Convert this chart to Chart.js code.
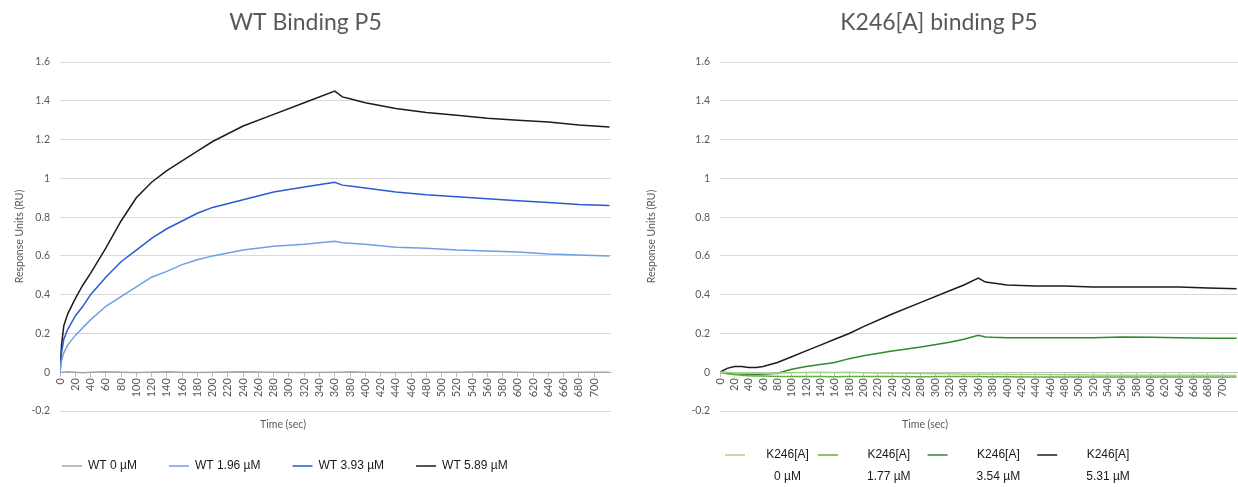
<!DOCTYPE html>
<html>
<head>
<meta charset="utf-8">
<script src="https://cdn.jsdelivr.net/npm/chart.js@4"></script>
<style>
  html, body { margin: 0; padding: 0; background: #fff; }
  #wrap { position: relative; width: 1238px; height: 487px; }
  .box { position: absolute; top: 0; height: 487px; }
  #left { left: 0; width: 620px; }
  #right { left: 620px; width: 618px; }
</style>
</head>
<body>
<div id="wrap">
  <div class="box" id="left"><canvas id="wtChart"></canvas></div>
  <div class="box" id="right"><canvas id="kChart"></canvas></div>
</div>
<script>
// time (sec) of the read points
const wtTime = [0, 2, 5, 10, 20, 30, 40, 60, 80, 100, 120, 140, 160, 180, 200, 240, 280, 320, 360, 370, 380, 400, 440, 480, 520, 560, 600, 640, 680, 720];
const wt0 = [0, 0, 0, 0.002, 0, -0.003, 0, 0.002, 0, -0.002, 0, 0.003, 0, -0.002, 0, 0.002, 0, -0.002, 0, 0, 0.002, 0, -0.002, 0, 0, 0.002, 0, -0.002, 0, 0];
const wt196 = [0, 0.06, 0.10, 0.14, 0.19, 0.23, 0.27, 0.34, 0.39, 0.44, 0.49, 0.52, 0.555, 0.58, 0.60, 0.63, 0.65, 0.66, 0.675, 0.668, 0.665, 0.66, 0.645, 0.64, 0.63, 0.625, 0.62, 0.61, 0.605, 0.60];
const wt393 = [0, 0.10, 0.17, 0.22, 0.29, 0.34, 0.40, 0.49, 0.57, 0.63, 0.69, 0.74, 0.78, 0.82, 0.85, 0.89, 0.93, 0.955, 0.98, 0.965, 0.96, 0.95, 0.93, 0.915, 0.905, 0.895, 0.885, 0.875, 0.865, 0.86];
const wt589 = [0, 0.14, 0.24, 0.30, 0.38, 0.45, 0.51, 0.64, 0.78, 0.90, 0.98, 1.04, 1.09, 1.14, 1.19, 1.27, 1.33, 1.39, 1.45, 1.42, 1.41, 1.39, 1.36, 1.34, 1.325, 1.31, 1.30, 1.29, 1.275, 1.265];
const wtLabels = ['WT 0 µM', 'WT 1.96 µM', 'WT 3.93 µM', 'WT 5.89 µM'];

const kTime = [0, 10, 20, 30, 40, 50, 60, 70, 80, 100, 120, 140, 160, 180, 200, 240, 280, 320, 340, 360, 370, 380, 400, 440, 480, 520, 560, 600, 640, 680, 720];
const k0 = [0, 0, -0.003, -0.005, -0.005, -0.004, -0.006, -0.005, -0.004, -0.003, -0.002, 0, -0.002, 0, -0.003, -0.005, -0.006, -0.008, -0.01, -0.01, -0.01, -0.01, -0.012, -0.012, -0.013, -0.014, -0.015, -0.015, -0.016, -0.016, -0.017];
const k177 = [0, -0.008, -0.012, -0.015, -0.018, -0.02, -0.02, -0.021, -0.022, -0.022, -0.022, -0.022, -0.023, -0.022, -0.022, -0.022, -0.023, -0.022, -0.022, -0.022, -0.023, -0.023, -0.023, -0.024, -0.024, -0.024, -0.025, -0.025, -0.025, -0.025, -0.025];
const k354 = [0, -0.005, -0.01, -0.01, -0.012, -0.012, -0.01, -0.008, -0.005, 0.015, 0.03, 0.04, 0.05, 0.07, 0.085, 0.11, 0.13, 0.155, 0.17, 0.19, 0.182, 0.18, 0.178, 0.178, 0.178, 0.178, 0.182, 0.18, 0.178, 0.175, 0.175];
const k531 = [0, 0.02, 0.03, 0.03, 0.025, 0.025, 0.03, 0.04, 0.05, 0.08, 0.11, 0.14, 0.17, 0.20, 0.235, 0.30, 0.36, 0.42, 0.45, 0.485, 0.465, 0.46, 0.45, 0.445, 0.445, 0.44, 0.44, 0.44, 0.44, 0.435, 0.43];
const kLabels = ['K246[A]\n0 µM', 'K246[A]\n1.77 µM', 'K246[A]\n3.54 µM', 'K246[A]\n5.31 µM'];

// axis ranges
const yMin = -0.2, yMax = 1.6, yStep = 0.2;
const xMax = 722, xStep = 20, xLastLabel = 700;

const grey = '#595959';
const calibriLike = 'Lato, "Open Sans", sans-serif';

// puts the bottom legend title ("Time (sec)") at a given centre and the first item at a given x,
// and lets the legend box reach the bottom of the canvas so two-line labels are not clipped
const legendPlace = {
  id: 'legendPlace',
  afterLayout(chart, args, opts) {
    const lg = chart.legend;
    if (!lg || opts.center == null) return;
    const pad = lg.options.labels.padding;
    lg.left = opts.center - 300;
    lg.right = opts.center + 300;
    lg.width = 600;
    lg.lineWidths = [lg.left + pad + lg.right - 2 * opts.start];
    lg.bottom = chart.height;
    lg.height = lg.bottom - lg.top;
  }
};

function makeChart(canvasId, cfg) {
  const datasets = cfg.series.map((vals, i) => ({
    label: cfg.labels[i],
    data: cfg.time.map((t, j) => ({ x: t, y: vals[j] })),
    borderColor: cfg.colors[i],
    backgroundColor: cfg.colors[i],
    borderWidth: 1.5,
    pointRadius: 0,
    tension: 0
  }));

  return new Chart(document.getElementById(canvasId), {
    type: 'line',
    data: { datasets },
    plugins: [legendPlace],
    options: {
      responsive: true,
      maintainAspectRatio: false,
      animation: false,
      layout: { padding: cfg.padding },
      scales: {
        x: {
          type: 'linear',
          min: 0,
          max: xMax,
          position: { y: 0 },
          afterBuildTicks: s => { s.ticks = s.ticks.filter(t => t.value <= xLastLabel); },
          ticks: {
            stepSize: xStep,
            autoSkip: false,
            maxRotation: 90,
            minRotation: 90,
            padding: 2,
            color: grey,
            font: { family: calibriLike, size: 11 }
          },
          grid: { drawOnChartArea: false, drawTicks: true, tickLength: 4, color: '#bfbfbf' },
          border: { display: true, color: '#bfbfbf' }
        },
        y: {
          min: yMin,
          max: yMax,
          afterFit: s => { s.width = cfg.yWidth; },
          ticks: {
            stepSize: yStep,
            padding: 10,
            color: grey,
            font: { family: calibriLike, size: 10.5 },
            callback: v => String(Math.round(v * 10) / 10)
          },
          grid: { color: '#d9d9d9', drawTicks: false },
          border: { display: false },
          title: {
            display: true,
            text: 'Response Units (RU)',
            color: grey,
            font: { family: calibriLike, size: 10.5 },
            padding: { top: cfg.yTitlePad, bottom: 0 }
          }
        }
      },
      plugins: {
        tooltip: { enabled: false },
        title: {
          display: true,
          text: cfg.title,
          color: grey,
          font: { family: calibriLike, size: 23, weight: 'normal', lineHeight: 1.2 },
          padding: { top: 9, bottom: 25.4 }
        },
        legend: {
          position: 'bottom',
          maxHeight: 76,
          title: {
            display: true,
            text: 'Time (sec)',
            color: grey,
            font: { family: calibriLike, size: 10.5, lineHeight: 1 },
            padding: { top: 8, bottom: cfg.legendTitleBottom }
          },
          labels: {
            usePointStyle: true,
            pointStyle: 'line',
            pointStyleWidth: 20,
            padding: cfg.legendPad,
            color: '#1a1a1a',
            textAlign: 'center',
            font: { family: '"Liberation Sans", Arial, sans-serif', size: 12, lineHeight: 1.8 },
            generateLabels: chart => Chart.defaults.plugins.legend.labels.generateLabels(chart)
              .map(item => Object.assign(item, { text: item.text.includes('\n') ? item.text.split('\n') : item.text }))
          }
        },
        legendPlace: { center: cfg.legendCenter, start: cfg.legendStart }
      }
    }
  });
}

makeChart('wtChart', {
  title: 'WT Binding P5',
  time: wtTime,
  series: [wt0, wt196, wt393, wt589],
  labels: wtLabels,
  colors: ['#a6a6a6', '#6f9fe6', '#2a5bd0', '#1c1c1c'],
  padding: { left: 0, right: 9, top: 0, bottom: 5 },
  yWidth: 60,
  yTitlePad: 13,
  legendPad: 32,
  legendTitleBottom: -1.5,
  legendCenter: 283,
  legendStart: 62
});

makeChart('kChart', {
  title: 'K246[A] binding P5',
  time: kTime,
  series: [k0, k177, k354, k531],
  labels: kLabels,
  colors: ['#a9d18e', '#62b23a', '#2f8a2c', '#1c1c1c'],
  padding: { left: 20, right: 0, top: 0, bottom: 16 },
  yWidth: 80,
  yTitlePad: 5,
  legendPad: -6,
  legendTitleBottom: 25.5,
  legendCenter: 305,
  legendStart: 105
});
</script>
</body>
</html>
